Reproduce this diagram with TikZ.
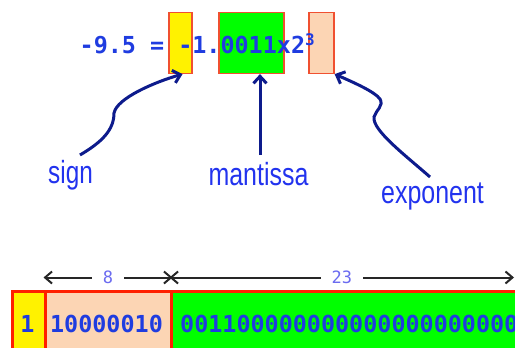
\documentclass[tikz,border=0pt]{standalone}
\usepackage{fontspec}
\setmonofont{DejaVu Sans Mono}
\setsansfont{Liberation Sans}
\usetikzlibrary{calc, arrows.meta}
\definecolor{bitblue}{RGB}{31, 60, 224}
\definecolor{lblblue}{RGB}{34, 51, 238}
\definecolor{navy}{RGB}{13, 27, 140}
\definecolor{dimblue}{RGB}{107, 107, 240}
\definecolor{boxred}{RGB}{240, 80, 48}
\definecolor{fieldred}{RGB}{255, 32, 0}
\definecolor{peach}{RGB}{252, 213, 180}
\definecolor{brightgreen}{RGB}{0, 255, 0}
\tikzset{
    topbox/.style = {draw = boxred, line width = 1.2pt, minimum height = 61pt, inner sep = 0pt},
    field/.style = {draw = fieldred, line width = 3pt, minimum height = 80pt, inner sep = 0pt, anchor = north west},
    bits/.style = {text = bitblue, font = \fontsize{23.4}{24}\selectfont\ttfamily\bfseries, inner sep = 0pt},
    lbl/.style = {text = lblblue, font = \fontsize{32}{33}\selectfont\sffamily, inner sep = 0pt, anchor = base},
    callout/.style = {navy, line width = 3pt, > = {Straight Barb[length = 7pt, width = 13pt]}, ->},
    dim/.style = {black!85, line width = 2pt, > = {Straight Barb[length = 7pt, width = 12pt]}, <->},
    dimlbl/.style = {text = dimblue, font = \fontsize{17}{18}\selectfont\ttfamily, fill = white, inner xsep = 11pt, inner ysep = 0pt}
}
\begin{document}
\begin{tikzpicture}[x = 1pt, y = -1pt]
            \useasboundingbox (0, 0) rectangle (515, 348);
            \clip (0, 0) rectangle (515, 348);
            
            \node[topbox, fill = yellow, minimum width = 23pt] (sgn) at (180.5, 43) {};
            \node[topbox, fill = brightgreen, minimum width = 65pt] (mant) at (251.5, 43) {};
            \node[topbox, fill = peach, minimum width = 25pt] (expo) at (321.5, 43) {};
            \node[bits, anchor = base west] (eqn) at (79.5, 53) {-9.5 = -1.0011x2\raisebox{8pt}{\fontsize{16}{16}\selectfont 3}};
            
            \node[lbl] (signlbl) at (70.5, 183) {\scalebox{0.76}[1]{sign}};
            \node[lbl] (mantlbl) at (258.5, 185) {\scalebox{0.78}[1]{mantissa}};
            \node[lbl] (explbl) at (432.5, 203) {\scalebox{0.78}[1]{exponent}};
            
            \coordinate (signtail) at (80, 155);
            \coordinate (manttail) at (260, 155);
            \coordinate (exptail) at (430, 177);
            \draw[callout] (signtail) .. controls (102, 142) and (114, 130) .. (114, 113) .. controls (117, 98) and (155, 82) .. ([xshift = 2pt]sgn.south);
            \draw[callout] (manttail) -- ([xshift = 8.5pt]mant.south);
            \draw[callout] (exptail) .. controls (405, 155) and (372, 130) .. (374, 117) .. controls (376, 110) and (384, 106) .. (380, 99) .. controls (375, 92) and (355, 83) .. (expo.south east);
            
            \node[field, fill = yellow, minimum width = 33pt] (sbit) at (10.5, 289.5) {};
            \node[field, fill = peach, minimum width = 126pt] (ebits) at (43.5, 289.5) {};
            \node[field, fill = brightgreen, minimum width = 380pt] (mbits) at (169.5, 289.5) {};
            \node[bits, anchor = base] (sval) at (27.5, 332) {1};
            \node[bits, anchor = base] (eval) at (106.5, 332) {10000010};
            \node[bits, anchor = base west] (mval) at (180, 332) {001100000000000000000000};
            
            \coordinate (dimend) at (514, 277.5);
            \draw[dim] ([yshift = 12pt]ebits.north west) -- node[dimlbl] {8} ([yshift = 12pt]ebits.north east);
            \draw[dim] ([yshift = 12pt]mbits.north west) -- node[dimlbl] {23} (dimend);
        \end{tikzpicture}
\end{document}
